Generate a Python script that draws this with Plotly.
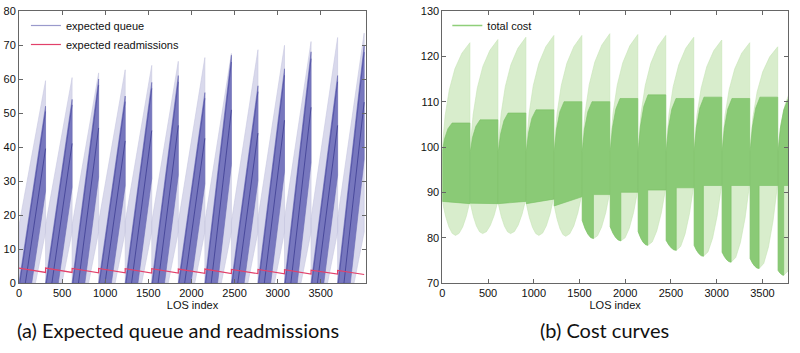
import plotly.graph_objects as go

# ---------------- data: left panel (expected queue / readmissions) ----------------
queue_cycle_len = 308
queue_cycle_start = [0, 308, 616, 924, 1232, 1540, 1848, 2156, 2464, 2772, 3080, 3388, 3696]
queue_env_start = [17, 17, 17, 18, 18, 18, 18, 18, 18, 19, 19, 19, 19]
queue_peak = [59.5, 60.4, 61.8, 62.7, 64.0, 65.2, 66.3, 67.5, 68.6, 69.9, 71.0, 72.2, 73.5]
queue_band_top = [52, 54, 60, 55, 59, 61, 56, 67, 58, 63, 68, 61, 70]
readm_start = [4.4, 4.4, 4.3, 4.3, 4.2, 4.2, 4.1, 4.1, 4.0, 4.0, 3.9, 3.8, 3.7]
readm_end = [3.1, 3.1, 3.0, 3.0, 2.95, 2.9, 2.85, 2.8, 2.75, 2.7, 2.65, 2.6, 2.5]

# ---------------- data: right panel (total cost) ----------------
cost_cycle_len = 306
cost_cycle_start = [0, 306, 612, 918, 1224, 1530, 1836, 2142, 2448, 2754, 3060, 3366, 3672]
cost_env_start = [100, 100, 100, 100, 100, 100, 100, 100, 100, 100, 100, 100, 100]
cost_peak = [123.0, 123.7, 124.2, 124.6, 124.6, 125.0, 124.8, 124.6, 124.2, 123.6, 123.0, 122.1, 117.0]
cost_band_start = [99, 99, 99, 99, 99, 99, 99, 99, 99, 99, 99, 99, 99]
cost_plateau = [105.3, 106.0, 107.5, 108.2, 110.0, 110.0, 110.7, 111.5, 110.7, 111.0, 110.7, 111.0, 110.5]
cost_lo_start = [88, 87.6, 87.5, 87.5, 87.0, 83.8, 82.4, 81.3, 79.4, 78.3, 76.8, 75.4, 72.8]
cost_min = [80.5, 80.9, 80.9, 80.5, 80.3, 79.8, 79.3, 78.3, 77.2, 75.9, 74.6, 73.2, 71.7]
cost_min_f = [0.47, 0.44, 0.44, 0.45, 0.41, 0.40, 0.38, 0.34, 0.36, 0.33, 0.32, 0.32, 0.20]
cost_lo_end = [88, 88, 88.5, 89, 89.5, 90, 90.5, 91, 91.5, 91.8, 92, 92, 92]
cost_med_lo = [87.5, 87.5, 88, 88.5, 89, 89.5, 90, 90.5, 91, 91.5, 91.5, 91.5, 91.5]
cost_med_deep = [0, 0, 0, 0, 0, 1, 1, 1, 1, 1, 1, 1, 1]

# envelope shapes (fraction of cycle, fraction of rise)
cost_up_f = [0, 0.1, 0.25, 0.45, 0.7, 0.985]
cost_up_r = [0, 0.3, 0.55, 0.75, 0.9, 1.0]
cost_band_f = [0, 0.08, 0.2, 0.35, 0.985]
cost_band_r = [0, 0.45, 0.8, 1.0, 1.0]
cost_u_d = [0, 0.25, 0.5, 0.75, 1.0]
cost_u_r = [0, 0.06, 0.25, 0.56, 1.0]

x_ticks_left = [0, 500, 1000, 1500, 2000, 2500, 3000, 3500]
y_ticks_left = [0, 10, 20, 30, 40, 50, 60, 70, 80]
x_ticks_right = [0, 500, 1000, 1500, 2000, 2500, 3000, 3500]
y_ticks_right = [70, 80, 90, 100, 110, 120, 130]


def join(polys, close=True):
    xs, ys = [], []
    for px, py in polys:
        xs += list(px) + ([px[0]] if close else []) + [None]
        ys += list(py) + ([py[0]] if close else []) + [None]
    return xs, ys


# ---- left polygons
Lq = queue_cycle_len
q_light, q_band, q_mid, q_edge = [], [], [], []
for s, e0, pk, top in zip(queue_cycle_start, queue_env_start, queue_peak, queue_band_top):
    q_light.append(([s, s, s + Lq, s + Lq, s + 0.62 * Lq], [0, e0, pk, 15, 0]))
    q_band.append(([s, s + Lq, s + Lq, s + 0.48 * Lq], [0, top, 0.52 * top, 0]))
    q_mid.append(([s + 0.24 * Lq, s + Lq], [0, 0.76 * top]))
    q_edge.append(([s + 0.03 * Lq, s + Lq], [0, 0.97 * top]))

r_x, r_y = [], []
for s, a, b in zip(queue_cycle_start, readm_start, readm_end):
    r_x += [s, s + Lq]
    r_y += [a, b]

# ---- right polygons
Lc = cost_cycle_len
c_light, c_med = [], []
for i, s in enumerate(cost_cycle_start):
    e0, pk = cost_env_start[i], cost_peak[i]
    fm, mn = cost_min_f[i], cost_min[i]
    ls, le = cost_lo_start[i], cost_lo_end[i]
    right_side = [(s + (fm + d * (0.985 - fm)) * Lc, mn + r * (le - mn))
                  for d, r in zip(cost_u_d[::-1], cost_u_r[::-1])]
    left_side = [(s + (fm - d * fm) * Lc, mn + r * (ls - mn))
                 for d, r in zip(cost_u_d, cost_u_r)]
    up = [(s + f * Lc, e0 + r * (pk - e0)) for f, r in zip(cost_up_f, cost_up_r)]
    pts = up + right_side + left_side[1:]
    c_light.append(([p[0] for p in pts], [p[1] for p in pts]))

    b0, pl = cost_band_start[i], cost_plateau[i]
    top = [(s + f * Lc, b0 + r * (pl - b0)) for f, r in zip(cost_band_f, cost_band_r)]
    ml = cost_med_lo[i]
    if cost_med_deep[i]:
        bottom = [(s + 0.985 * Lc, ml), (s + fm * Lc, ml)] + left_side
    else:
        bottom = [(s + 0.985 * Lc, ml), (s, ls)]
    pts = top + bottom
    c_med.append(([p[0] for p in pts], [p[1] for p in pts]))

fig = go.Figure()

# left traces
x, y = join(q_light)
fig.add_trace(go.Scatter(x=x, y=y, mode="lines", fill="toself", fillcolor="#d9d9ec",
                         line=dict(width=0.6, color="#c8c8e0"), showlegend=False,
                         xaxis="x", yaxis="y", hoverinfo="skip"))
x, y = join(q_band)
fig.add_trace(go.Scatter(x=x, y=y, mode="lines", fill="toself", fillcolor="#7777be",
                         line=dict(width=0.6, color="#6a6ab4"), showlegend=False,
                         xaxis="x", yaxis="y", hoverinfo="skip"))
x, y = join(q_mid, close=False)
fig.add_trace(go.Scatter(x=x, y=y, mode="lines", line=dict(width=0.8, color="#3c3c92"),
                         showlegend=False, xaxis="x", yaxis="y", hoverinfo="skip"))
x, y = join(q_edge, close=False)
fig.add_trace(go.Scatter(x=x, y=y, mode="lines", line=dict(width=0.7, color="#4a4aa0"),
                         showlegend=False, xaxis="x", yaxis="y", hoverinfo="skip"))
fig.add_trace(go.Scatter(x=[None], y=[None], mode="lines", name="expected queue",
                         line=dict(width=1.2, color="#9a9acc"), legend="legend"))
fig.add_trace(go.Scatter(x=r_x, y=r_y, mode="lines", name="expected readmissions",
                         line=dict(width=1.2, color="#e2406a"), legend="legend",
                         xaxis="x", yaxis="y", hoverinfo="skip"))

# right traces
x, y = join(c_light)
fig.add_trace(go.Scatter(x=x, y=y, mode="lines", fill="toself", fillcolor="#d8edcc",
                         line=dict(width=0.6, color="#c6e4b6"), showlegend=False,
                         xaxis="x2", yaxis="y2", hoverinfo="skip"))
x, y = join(c_med)
fig.add_trace(go.Scatter(x=x, y=y, mode="lines", fill="toself", fillcolor="#8aca76",
                         line=dict(width=0.6, color="#78bf63"), showlegend=False,
                         xaxis="x2", yaxis="y2", hoverinfo="skip"))
fig.add_trace(go.Scatter(x=[None], y=[None], mode="lines", name="total cost",
                         line=dict(width=1.4, color="#8fcf7a"), legend="legend2",
                         xaxis="x2", yaxis="y2"))

tick_font = dict(family="Liberation Sans, Arial, sans-serif", size=11, color="#111")
axis_common = dict(showline=True, linecolor="#666", linewidth=1, mirror="ticks",
                   ticks="inside", ticklen=4, tickcolor="#666", showgrid=False,
                   zeroline=False, automargin=False, tickfont=tick_font)

fig.update_layout(
    width=800, height=353,
    margin=dict(l=19, r=12, t=11, b=70, autoexpand=False),
    paper_bgcolor="white", plot_bgcolor="white",
    xaxis=dict(domain=[0, 0.4512], range=[0, 4025], tickvals=x_ticks_left,
               title=dict(text="LOS index", standoff=0, font=tick_font),
               **axis_common),
    yaxis=dict(domain=[0, 1], range=[0, 80], tickvals=y_ticks_left, **axis_common),
    xaxis2=dict(domain=[0.5505, 1], range=[0, 3780], tickvals=x_ticks_right, anchor="y2",
                title=dict(text="LOS index", standoff=0, font=tick_font),
                **axis_common),
    yaxis2=dict(domain=[0, 1], range=[70, 130], tickvals=y_ticks_right, anchor="x2", **axis_common),
    legend=dict(x=0.009, y=1.0, xanchor="left", yanchor="top", bgcolor="rgba(0,0,0,0)",
                font=tick_font, tracegroupgap=0),
    legend2=dict(x=0.557, y=1.0, xanchor="left", yanchor="top", bgcolor="rgba(0,0,0,0)",
                 font=tick_font),
    annotations=[
        dict(text="(a) Expected queue and readmissions", xref="paper", yref="paper",
             x=0.2068, y=-0.173, xanchor="center", yanchor="middle", showarrow=False,
             font=dict(family="Lato", size=20, color="#111")),
        dict(text="(b) Cost curves", xref="paper", yref="paper",
             x=0.762, y=-0.173, xanchor="center", yanchor="middle", showarrow=False,
             font=dict(family="Lato", size=20, color="#111")),
    ],
)

fig.write_html("out.html", config={"displayModeBar": False},
               post_script="document.body.style.margin='0';document.body.style.padding='0';")
